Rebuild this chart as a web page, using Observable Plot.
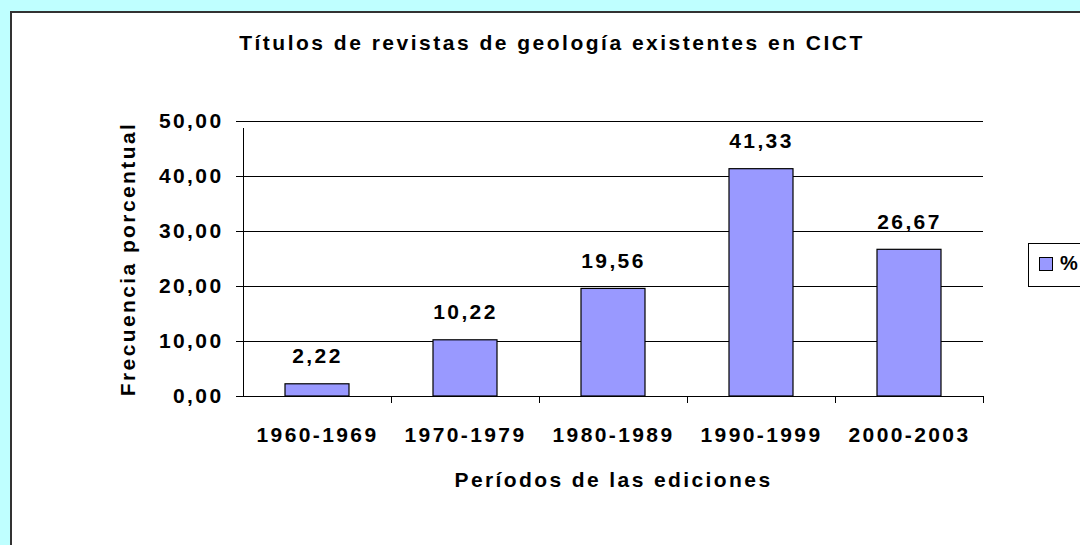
<!DOCTYPE html>
<html>
<head>
<meta charset="utf-8">
<script src="https://cdn.jsdelivr.net/npm/d3@7"></script>
<script src="https://cdn.jsdelivr.net/npm/@observablehq/plot@0.6"></script>
<style>
  html, body { margin: 0; padding: 0; }
  body { width: 1080px; height: 545px; overflow: hidden; background: #BFFFFF; position: relative;
         font-family: "Liberation Sans", Arial, sans-serif; font-weight: bold; }
  #frame { position: absolute; left: 10px; top: 11px; width: 1200px; height: 700px; background: #fff;
           border: 2px solid #333; box-sizing: border-box; }
  #chart { position: absolute; left: 0; top: 0; }
  #title { position: absolute; left: 0; width: 1104px; top: 31px; text-align: center; font-size: 21px;
           letter-spacing: 2.5px; color: #000; }
  #legend { position: absolute; left: 1028px; top: 243px; width: 120px; height: 44px; border: 1px solid #000;
            box-sizing: border-box; background: #fff; }
  #legend .sw { position: absolute; left: 10px; top: 13px; width: 14px; height: 14px; background: #9999FF;
                border: 1px solid #000; box-sizing: border-box; }
  #legend .lb { position: absolute; left: 31px; top: 8px; font-size: 20px; letter-spacing: 0; }
</style>
</head>
<body>
<div id="frame"></div>
<div id="chart"></div>
<div id="title">Títulos de revistas de geología existentes en CICT</div>
<div id="legend"><div class="sw"></div><div class="lb" id="legendLabel"></div></div>
<script>
const titleText = "Títulos de revistas de geología existentes en CICT";
const periods = ["1960-1969", "1970-1979", "1980-1989", "1990-1999", "2000-2003"];
const percentages = [2.22, 10.22, 19.56, 41.33, 26.67];
const yTicks = [0, 10, 20, 30, 40, 50];
const xLabel = "Períodos de las ediciones";
const yLabel = "Frecuencia porcentual";
const seriesName = "%";

document.getElementById("legendLabel").textContent = seriesName;

const data = periods.map((p, i) => ({period: p, value: percentages[i]}));
const fmt = v => v.toFixed(2).replace(".", ",");
const half = 74;

const chart = Plot.plot({
  width: 1080,
  height: 545,
  marginLeft: 243,
  marginRight: 97,
  marginTop: 121,
  marginBottom: 149,
  style: {fontFamily: "'Liberation Sans', Arial, sans-serif", fontWeight: "bold", fontSize: "21px",
          letterSpacing: "2.4px", color: "#000", background: "transparent", overflow: "visible"},
  x: {domain: periods, padding: 0},
  y: {domain: [0, 50]},
  marks: [
    Plot.ruleY(yTicks, {stroke: "#000", strokeWidth: 1}),
    Plot.barY(data, {x: "period", y: "value", fill: "#9999FF", stroke: "#000", strokeWidth: 1.2,
                     insetLeft: 42, insetRight: 42}),
    Plot.text(data, {x: "period", y: "value", text: d => fmt(d.value), lineAnchor: "bottom", dy: -21,
                     fontSize: 21, fill: "#000"}),
    Plot.ruleX([periods[0]], {y1: 0, y2: 50, dx: -half, insetBottom: -7, stroke: "#000"}),
    Plot.ruleX(periods.slice(1), {y1: 0, y2: 0, dx: -half, insetBottom: -7, stroke: "#000"}),
    Plot.ruleX([periods[periods.length - 1]], {y1: 0, y2: 0, dx: half, insetBottom: -7, stroke: "#000"}),
    Plot.axisY({ticks: yTicks, tickSize: 7, tickPadding: 13, tickFormat: fmt, label: yLabel,
                labelAnchor: "center", labelArrow: "none", labelOffset: 123, fontSize: 21}),
    Plot.axisX({tickSize: 0, tickPadding: 31, label: xLabel, labelAnchor: "center", labelArrow: "none",
                labelOffset: 90, fontSize: 21})
  ]
});
document.getElementById("chart").appendChild(chart);
</script>
</body>
</html>
